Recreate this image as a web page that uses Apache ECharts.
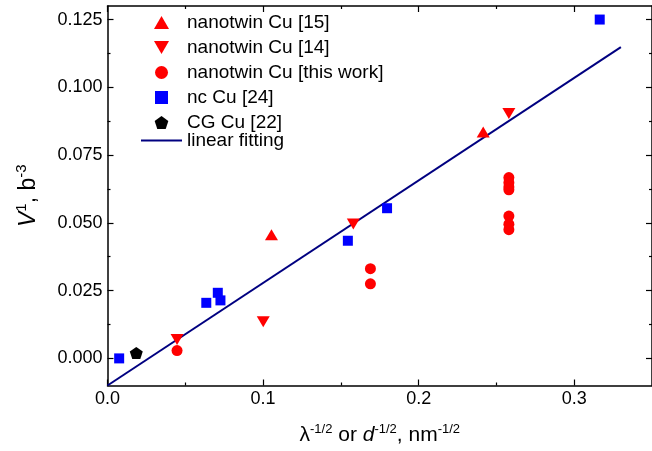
<!DOCTYPE html>
<html>
<head>
<meta charset="utf-8">
<script src="https://cdn.jsdelivr.net/npm/echarts@6/dist/echarts.min.js"></script>
<style>html,body{margin:0;padding:0;background:#fff;}#c{width:652px;height:451px;}</style>
</head>
<body>
<div id="c"></div>
<script>
// ---- data ----
const nt15   = [[0.1054,0.0456],[0.2415,0.0835]];
const nt14   = [[0.0447,0.0070],[0.1001,0.0135],[0.1580,0.0496],[0.2580,0.0903]];
const ntThis = [[0.0447,0.0029],[0.1690,0.0331],[0.1690,0.0275],[0.2580,0.0667],[0.2580,0.0648],
                [0.2580,0.0632],[0.2580,0.0622],[0.2580,0.0525],[0.2580,0.0495],[0.2580,0.0475]];
const ncCu   = [[0.0075,0.0000],[0.0635,0.0205],[0.0709,0.0242],[0.0726,0.0214],[0.1545,0.0434],
                [0.1797,0.0554],[0.3164,0.1250]];
const cgCu   = [[0.0185,0.0020]];
const fitLine = [[0.0,-0.0100],[0.33,0.1148]];

const seriesNames = ['nanotwin Cu [15]','nanotwin Cu [14]','nanotwin Cu [this work]','nc Cu [24]','CG Cu [22]','linear fitting'];
const xMajor = [0,0.1,0.2,0.3];
const xMinor = [0.05,0.15,0.25];
const yMajor = [0,0.025,0.05,0.075,0.1,0.125];
const yMinor = [0.0125,0.0375,0.0625,0.0875,0.1125];

const FONT = "'Liberation Sans', Arial, sans-serif";
const triUp = 'path://M50,0L100,86.6L0,86.6Z';
const triDown = 'path://M0,0L100,0L50,86.6Z';
const penta = 'path://M50,0L97.6,34.5L79.4,90.5L20.6,90.5L2.4,34.5Z';
const squareIcon = 'path://M0,0L100,0L100,100L0,100Z';
const lineIcon = 'path://M0,0L200,0L200,10L0,10Z';

const chart = echarts.init(document.getElementById('c'), null, {renderer:'canvas'});

function xAx(pos, ticks, len, showLine, label, extra) {
  return Object.assign({
    type:'value', position:pos, min:0, max:0.35, gridIndex:0,
    axisLine:{show:showLine, onZero:false, lineStyle:{color:'#000', width:1.5}},
    axisTick:{show:true, inside:true, length:len, customValues:ticks, lineStyle:{color:'#000', width:1.2}},
    axisLabel:{show:label, customValues:ticks, formatter:v=>v.toFixed(1), fontSize:18, color:'#000', fontFamily:FONT, margin:5},
    splitLine:{show:false}, minorTick:{show:false}
  }, extra||{});
}
function yAx(pos, ticks, len, showLine, label, extra) {
  return Object.assign({
    type:'value', position:pos, min:-0.01, max:0.13, gridIndex:0,
    axisLine:{show:showLine, onZero:false, lineStyle:{color:'#000', width:1.5}},
    axisTick:{show:true, inside:true, length:len, customValues:ticks, lineStyle:{color:'#000', width:1.2}},
    axisLabel:{show:label, customValues:ticks, formatter:v=>v.toFixed(3), fontSize:18, color:'#000', fontFamily:FONT, margin:5},
    splitLine:{show:false}, minorTick:{show:false}
  }, extra||{});
}

function makeLegend(left, top, data) {
  return {
    orient:'vertical', left:left, top:top, padding:0, itemGap:6,
    itemWidth:41, itemHeight:13, align:'left',
    textStyle:{fontSize:19, color:'#000', fontFamily:FONT, lineHeight:18},
    data:data
  };
}

const option = {
  animation:false,
  backgroundColor:'#fff',
  grid:{left:107.5, top:6, width:547, height:380.7, containLabel:false},
  legend:[
    // the symbol legend's bounding box starts at the widest symbol, not at the item box
    makeLegend(154, 13, [
      {name:seriesNames[0]},
      {name:seriesNames[1]},
      {name:seriesNames[2]},
      {name:seriesNames[3], icon:squareIcon},
      {name:seriesNames[4]}
    ]),
    makeLegend(141, 131, [{name:seriesNames[5], icon:lineIcon}])
  ],
  xAxis:[
    xAx('bottom', xMajor, 6, true, true, {
      name:'{l|λ}{s|-1/2}{n| or }{i|d}{s|-1/2}{n|, nm}{s|-1/2}',
      nameLocation:'middle', nameGap:37,
      nameTextStyle:{fontSize:21, color:'#000', fontFamily:FONT, rich:{
        l:{fontSize:21, color:'#000', fontFamily:FONT, lineHeight:26},
        n:{fontSize:21, color:'#000', fontFamily:FONT, lineHeight:26},
        i:{fontSize:21, color:'#000', fontFamily:FONT, fontStyle:'italic', lineHeight:26},
        s:{fontSize:13, color:'#000', fontFamily:FONT, lineHeight:13, verticalAlign:'top'}
      }}
    }),
    xAx('bottom', xMinor, 3, false, false),
    xAx('top', xMajor, 6, true, false),
    xAx('top', xMinor, 3, false, false)
  ],
  yAxis:[
    yAx('left', yMajor, 6, true, true, {
      name:'{i|V}{s|1}{n|, b}{s|-3}',
      nameLocation:'middle', nameGap:65,
      nameTextStyle:{fontSize:23, color:'#000', fontFamily:FONT, rich:{
        n:{fontSize:23, color:'#000', fontFamily:FONT, lineHeight:28},
        i:{fontSize:23, color:'#000', fontFamily:FONT, fontStyle:'italic', lineHeight:28},
        s:{fontSize:15, color:'#000', fontFamily:FONT, lineHeight:15, verticalAlign:'top'}
      }}
    }),
    yAx('left', yMinor, 3, false, false),
    yAx('right', yMajor, 6, true, false),
    yAx('right', yMinor, 3, false, false)
  ],
  series:[
    {name:seriesNames[0], type:'scatter', data:nt15, symbol:triUp, symbolSize:[13,11], itemStyle:{color:'#ff0000', opacity:1}, z:3},
    {name:seriesNames[1], type:'scatter', data:nt14, symbol:triDown, symbolSize:[13,11], itemStyle:{color:'#ff0000', opacity:1}, z:3},
    {name:seriesNames[2], type:'scatter', data:ntThis, symbol:'circle', symbolSize:11, itemStyle:{color:'#ff0000', opacity:1}, z:3},
    {name:seriesNames[3], type:'scatter', data:ncCu, symbol:'rect', symbolSize:10, itemStyle:{color:'#0000ff', opacity:1}, z:3},
    {name:seriesNames[4], type:'scatter', data:cgCu, symbol:penta, symbolSize:[13,12], itemStyle:{color:'#000000', opacity:1}, z:3},
    {name:seriesNames[5], type:'line', data:fitLine, symbol:'none', showSymbol:false, lineStyle:{color:'#000080', width:2}, itemStyle:{color:'#000080'}, z:2}
  ]
};
chart.setOption(option);
</script>
</body>
</html>
